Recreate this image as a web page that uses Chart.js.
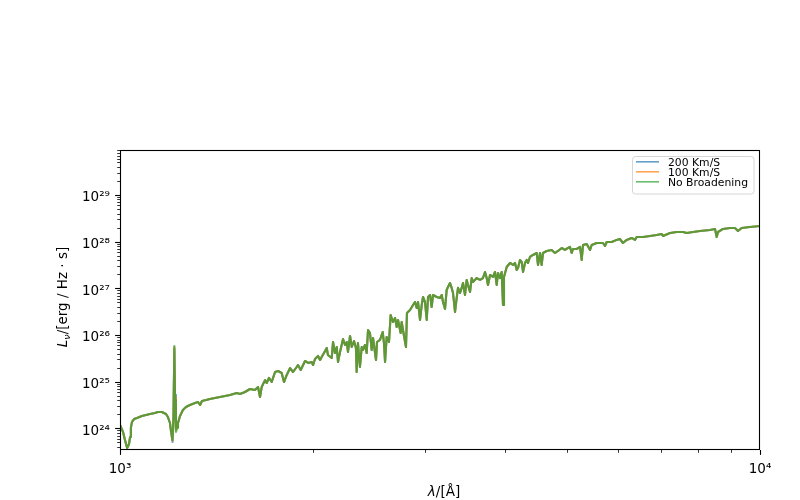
<!DOCTYPE html>
<html lang="en">
<head>
  <meta charset="UTF-8" />
  <title>Spectrum - L_nu vs wavelength</title>
  <style>
    html, body { margin: 0; padding: 0; background: #fff; }
    #chart { display: block; }
  </style>
</head>
<body>
  <canvas id="chart" width="800" height="500"></canvas>

  <script src="https://cdn.jsdelivr.net/npm/chart.js"></script>
  <script>
    // wavelength in Angstrom
    const wavelength = [1000,1011,1018,1026,1033,1037,1040,1044,1052,1063,
      1082,1098,1114,1134,1146,1163,1171,1180,1188,1197,
      1201,1208,1212,1216,1219,1223,1228,1232,1241,1254,
      1268,1286,1310,1324,1334,1343,1363,1382,1407,1433,
      1459,1486,1522,1540,1568,1596,1625,1643,1655,1665,
      1685,1695,1709,1726,1747,1766,1789,1804,1822,1844,
      1864,1888,1897,1916,1946,1967,1993,2003,2017,2039,
      2054,2066,2104,2113,2142,2152,2167,2181,2191,2207,
      2231,2247,2261,2271,2288,2302,2321,2337,2343,2354,
      2371,2386,2397,2414,2429,2441,2458,2473,2485,2512,
      2521,2548,2573,2585,2595,2610,2632,2648,2670,2690,
      2706,2719,2745,2755,2768,2798,2808,2839,2870,2890,
      2908,2922,2943,2961,2975,2996,3015,3029,3051,3069,
      3084,3125,3162,3182,3197,3220,3239,3255,3278,3298,
      3314,3338,3358,3374,3398,3419,3435,3460,3481,3497,
      3523,3544,3561,3609,3652,3691,3718,3741,3758,3786,
      3827,3854,3878,3896,3924,3948,3967,3981,4020,4068,
      4112,4142,4167,4187,4217,4243,4263,4294,4320,4340,
      4371,4419,4478,4499,4532,4559,4581,4642,4726,4783,
      4835,4900,4958,5012,5048,5079,5103,5171,5233,5265,
      5290,5361,5425,5458,5557,5684,5725,5760,5865,5971,
      6040,6108,6190,6302,6378,6417,6564,6732,6896,7021,
      7054,7234,7410,7580,7682,7858,8058,8354,8505,8557,
      8598,8754,8977,9140,9238,9362,9647,10000];

    // L_nu in erg / Hz / s, no broadening
    const lumNoBroadening = [1.18e24,8.33e23,5.62e23,3.78e23,4.61e23,6.51e23,1.02e24,1.37e24,1.58e24,1.66e24,
      1.84e24,1.93e24,2.03e24,2.13e24,2.24e24,2.24e24,2.13e24,2.03e24,1.75e24,1.30e24,
      9.2e23,5.62e23,1.51e24,5.80e25,4.04e24,8.33e23,1.02e24,1.30e24,1.84e24,2.47e24,
      2.86e24,3.16e24,3.49e24,3.66e24,3.16e24,3.85e24,4.04e24,4.25e24,4.46e24,4.69e24,
      4.92e24,5.17e24,5.71e24,5.43e24,6.00e24,6.96e24,6.62e24,7.68e24,4.69e24,7.68e24,
      1.08e25,9.35e24,1.20e25,9.82e24,1.61e25,1.69e25,1.53e25,9.82e24,1.39e25,1.96e25,
      1.61e25,2.06e25,2.27e25,1.78e25,2.77e25,2.51e25,2.64e25,2.27e25,3.06e25,3.55e25,
      2.91e25,3.38e25,5.26e25,3.72e25,3.21e25,7.07e25,4.11e25,5.53e25,2.64e25,4.32e25,
      8.20e25,6.10e25,7.07e25,4.32e25,9.51e25,5.53e25,7.43e25,5.26e25,1.61e25,6.73e25,
      2.06e25,5.53e25,4.77e25,6.10e25,4.11e25,1.28e26,1.10e26,4.77e25,8.62e25,2.91e25,
      7.07e25,7.81e25,1.16e26,6.73e25,2.64e25,9.05e25,7.07e25,2.68e26,1.90e26,2.31e26,
      1.48e26,2.10e26,1.10e26,1.90e26,1.28e26,5.53e25,2.96e26,3.43e26,4.39e26,5.09e26,
      3.79e26,5.09e26,2.10e26,4.39e26,6.52e26,5.09e26,2.10e26,6.52e26,7.19e26,3.98e26,
      7.19e26,6.52e26,6.20e26,7.19e26,5.09e26,3.61e26,9.20e26,1.07e27,1.30e27,1.02e27,
      7.94e26,3.11e26,6.20e26,1.02e27,7.94e26,1.02e27,1.30e27,7.19e26,1.51e27,1.18e27,
      8.34e26,1.66e27,1.37e27,1.66e27,1.51e27,1.66e27,2.24e27,1.66e27,1.18e27,1.93e27,
      1.75e27,2.24e27,1.18e27,2.13e27,1.66e27,2.24e27,4.39e26,1.75e27,2.86e27,3.49e27,
      3.16e27,3.49e27,2.47e27,2.73e27,4.05e27,3.67e27,2.24e27,3.49e27,4.05e27,3.49e27,
      4.69e27,5.18e27,5.71e27,3.16e27,5.71e27,3.16e27,5.71e27,6.31e27,6.63e27,5.71e27,
      6.31e27,7.31e27,6.63e27,7.31e27,7.69e27,5.71e27,6.96e27,6.96e27,7.69e27,4.05e27,
      8.48e27,8.91e27,6.63e27,8.48e27,9.36e27,9.36e27,8.07e27,9.83e27,9.83e27,1.09e28,
      1.14e28,9.36e27,1.09e28,1.20e28,1.09e28,1.26e28,1.26e28,1.32e28,1.39e28,1.46e28,
      1.32e28,1.53e28,1.61e28,1.61e28,1.53e28,1.61e28,1.69e28,1.78e28,1.87e28,1.26e28,
      1.61e28,1.87e28,1.96e28,1.96e28,1.69e28,1.96e28,2.06e28,2.17e28];

    // the broadened spectra only part from the unbroadened one around Ly-alpha
    const lyaWavelength = [1201, 1208, 1212, 1216, 1219, 1223, 1228];
    const lya100 = [9.0e23, 5.4e23, 1.7e24, 5.5e25, 4.6e24, 9.0e23, 1.04e24];
    const lya200 = [8.7e23, 5.1e23, 1.9e24, 5.1e25, 5.2e24, 9.8e23, 1.06e24];

    const seriesLabels = ['200 Km/S', '100 Km/S', 'No Broadening'];
    const seriesColors = ['rgba(31,119,180,0.7)', 'rgba(255,127,14,0.7)', 'rgba(44,160,44,0.7)'];

    const xRange = [1000, 10000];
    const yRange = [3.43e23, 9.2e29];
    const xTickValues = [1000, 10000];
    const xMinorTicks = [2000, 3000, 4000, 5000, 6000, 7000, 8000, 9000];
    const yTickValues = [1e24, 1e25, 1e26, 1e27, 1e28, 1e29];

    const FONT = '"DejaVu Sans", "Liberation Sans", sans-serif';
    const SUP = { '0': '⁰', '1': '¹', '2': '²', '3': '³', '4': '⁴', '5': '⁵', '6': '⁶', '7': '⁷', '8': '⁸', '9': '⁹', '-': '⁻' };

    function powLabel(v) {
      const e = Math.round(Math.log10(v));
      return '10' + String(e).split('').map(c => SUP[c]).join('');
    }

    function buildSeries(lyaValues) {
      const n = Math.min(wavelength.length, lumNoBroadening.length);
      const pts = [];
      for (let i = 0; i < n; i++) {
        const k = lyaValues ? lyaWavelength.indexOf(wavelength[i]) : -1;
        pts.push({ x: wavelength[i], y: k >= 0 ? lyaValues[k] : lumNoBroadening[i] });
      }
      return pts;
    }

    function drawPieces(ctx, pieces, cx, baseline) {
      let total = 0;
      pieces.forEach(p => { ctx.font = p.font; p.w = ctx.measureText(p.text).width; total += p.w; });
      let px = cx - total / 2;
      pieces.forEach(p => {
        ctx.font = p.font;
        ctx.fillText(p.text, px, baseline + (p.dy || 0));
        px += p.w;
      });
    }

    // tick marks, frame, axis titles and legend, matplotlib style
    const decorPlugin = {
      id: 'decor',
      afterDraw(chart) {
        const { ctx, chartArea: a, scales: { x, y } } = chart;
        ctx.save();
        ctx.strokeStyle = '#000';

        function xTick(v, len, w) {
          const p = Math.round(x.getPixelForValue(v)) + 0.5;
          ctx.lineWidth = w;
          ctx.beginPath(); ctx.moveTo(p, a.bottom); ctx.lineTo(p, a.bottom + len); ctx.stroke();
        }
        function yTick(v, len, w) {
          const p = Math.round(y.getPixelForValue(v)) + 0.5;
          ctx.lineWidth = w;
          ctx.beginPath(); ctx.moveTo(a.left, p); ctx.lineTo(a.left - len, p); ctx.stroke();
        }

        xTickValues.forEach(v => xTick(v, 4.9, 1.1));
        xMinorTicks.forEach(v => xTick(v, 2.8, 0.8));
        yTickValues.forEach(v => yTick(v, 4.9, 1.1));
        for (let d = 23; d <= 29; d++) {
          for (let m = 2; m <= 9; m++) {
            const v = m * Math.pow(10, d);
            if (v > yRange[0] && v < yRange[1]) yTick(v, 2.8, 0.8);
          }
        }

        // frame
        ctx.lineWidth = 1.1;
        ctx.strokeRect(Math.round(a.left) + 0.5, Math.round(a.top) + 0.5,
          Math.round(a.right - a.left) - 1, Math.round(a.bottom - a.top) - 1);

        // axis titles
        ctx.fillStyle = '#000';
        ctx.textBaseline = 'alphabetic';
        ctx.textAlign = 'left';
        drawPieces(ctx, [
          { text: 'λ', font: 'italic 13.5px ' + FONT },
          { text: '/[Å]', font: '13.5px ' + FONT }
        ], 444, 496);

        ctx.save();
        ctx.translate(67, 297);
        ctx.rotate(-Math.PI / 2);
        drawPieces(ctx, [
          { text: 'L', font: 'italic 13.5px ' + FONT },
          { text: 'ν', font: 'italic 9.5px ' + FONT, dy: 2.5 },
          { text: '/[erg / Hz · s]', font: '13.5px ' + FONT }
        ], 0, 0);
        ctx.restore();

        // legend
        const lx = 632.5, ly = 156.5, lw = 121.5, lh = 37.5, r = 3;
        ctx.beginPath();
        ctx.moveTo(lx + r, ly);
        ctx.arcTo(lx + lw, ly, lx + lw, ly + lh, r);
        ctx.arcTo(lx + lw, ly + lh, lx, ly + lh, r);
        ctx.arcTo(lx, ly + lh, lx, ly, r);
        ctx.arcTo(lx, ly, lx + lw, ly, r);
        ctx.closePath();
        ctx.fillStyle = 'rgba(255,255,255,0.8)';
        ctx.fill();
        ctx.strokeStyle = '#d6d6d6';
        ctx.lineWidth = 1;
        ctx.stroke();

        ctx.font = '10.8px ' + FONT;
        chart.data.datasets.forEach((ds, i) => {
          const base = 165.7 + i * 10;
          const mid = base - 3.9;
          ctx.strokeStyle = ds.borderColor;
          ctx.lineWidth = 1.6;
          ctx.beginPath(); ctx.moveTo(636, mid); ctx.lineTo(659, mid); ctx.stroke();
          ctx.fillStyle = '#000';
          ctx.fillText(ds.label, 668, base);
        });

        ctx.restore();
      }
    };

    const lyaSets = [lya200, lya100, null];

    new Chart(document.getElementById('chart'), {
      type: 'line',
      data: {
        datasets: seriesLabels.map((label, i) => ({
          label,
          data: buildSeries(lyaSets[i]),
          borderColor: seriesColors[i],
          borderWidth: 2.1,
          borderJoinStyle: 'round',
          pointRadius: 0,
          tension: 0,
          fill: false,
          clip: 0,
          order: seriesLabels.length - i
        }))
      },
      options: {
        responsive: false,
        animation: false,
        devicePixelRatio: 1,
        layout: { padding: { left: 0, right: 40, top: 150, bottom: 0 } },
        plugins: {
          legend: { display: false },
          tooltip: { enabled: false }
        },
        scales: {
          x: {
            type: 'logarithmic',
            min: xRange[0],
            max: xRange[1],
            grid: { display: false, drawTicks: false },
            border: { display: false },
            afterBuildTicks: scale => { scale.ticks = xTickValues.map(v => ({ value: v })); },
            afterFit: scale => { scale.height = 50; },
            ticks: {
              autoSkip: false,
              maxRotation: 0,
              padding: 11,
              color: '#000',
              font: { family: FONT, size: 13.5 },
              callback: v => powLabel(v)
            }
          },
          y: {
            type: 'logarithmic',
            min: yRange[0],
            max: yRange[1],
            grid: { display: false, drawTicks: false },
            border: { display: false },
            afterBuildTicks: scale => { scale.ticks = yTickValues.map(v => ({ value: v })); },
            afterFit: scale => { scale.width = 120; },
            ticks: {
              autoSkip: false,
              padding: 10,
              labelOffset: 3,
              color: '#000',
              font: { family: FONT, size: 13.5 },
              callback: v => powLabel(v)
            }
          }
        }
      },
      plugins: [decorPlugin]
    });
  </script>
</body>
</html>
